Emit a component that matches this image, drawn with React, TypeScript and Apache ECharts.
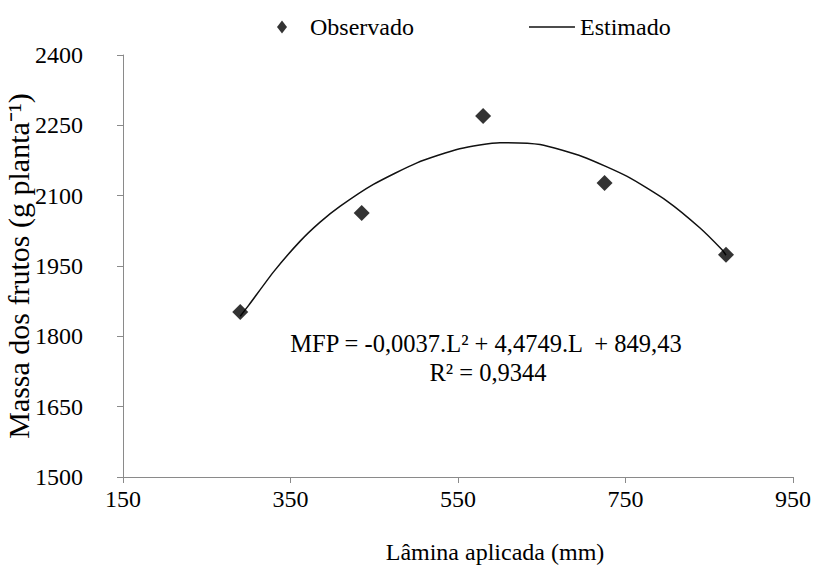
import React, { useEffect, useRef } from "react";
import * as echarts from "echarts";

// Observed values
const lamina = [290, 435, 580, 725, 870];
const massa = [1852, 2063, 2270, 2127, 1974];

// Estimated (fitted) curve
const curveX = [290, 300, 330, 361, 385, 409, 449, 501, 552, 600, 648, 699, 752, 800, 839, 865, 870];
const curveY = [1843, 1866, 1938, 2002, 2043, 2077, 2124, 2170, 2200, 2213, 2209, 2183, 2141, 2088, 2031, 1985, 1973];

const xTicks = { min: 150, max: 950, interval: 200 };
const yTicks = { min: 1500, max: 2400, interval: 150 };

const seriesNames = ["Observado", "Estimado"];
const equationText = "MFP = -0,0037.L² + 4,4749.L  + 849,43";
const r2Text = "R² = 0,9344";
const xTitle = "Lâmina aplicada (mm)";
const yTitle = "Massa dos frutos (g planta⁻¹)";

const FONT = "Liberation Serif";
const AXIS_COLOR = "#8a8a8a";

export default function App() {
  const ref = useRef<HTMLDivElement>(null);

  useEffect(() => {
    if (!ref.current) return;
    const chart = echarts.init(ref.current, undefined, { renderer: "svg" });
    const obs = lamina.map((x, i) => [x, massa[i]]);
    const est = curveX.map((x, i) => [x, curveY[i]]);

    chart.setOption({
      animation: false,
      backgroundColor: "#ffffff",
      textStyle: { fontFamily: FONT, color: "#000" },
      grid: {
        left: 123,
        right: 24,
        top: 55,
        bottom: 90,
        containLabel: false,
        outerBoundsMode: "none",
      },
      legend: {
        left: 272,
        top: 10,
        itemWidth: 46,
        itemHeight: 13,
        itemGap: 115,
        symbolKeepAspect: true,
        textStyle: { fontFamily: FONT, fontSize: 24, color: "#000" },
        data: [
          { name: seriesNames[0], icon: "path://M5,0 L10,6.5 L5,13 L0,6.5 Z" },
          { name: seriesNames[1], icon: "path://M0,0 L46,0 L46,1.5 L0,1.5 Z" },
        ],
      },
      xAxis: {
        type: "value",
        min: xTicks.min,
        max: xTicks.max,
        interval: xTicks.interval,
        name: xTitle,
        nameLocation: "middle",
        nameGap: 63,
        nameMoveOverlap: false,
        nameTextStyle: { fontFamily: FONT, fontSize: 24, color: "#000", padding: [0, 0, 0, 74] },
        axisLine: { show: true, lineStyle: { color: AXIS_COLOR, width: 1 } },
        axisTick: { show: true, length: 6, lineStyle: { color: AXIS_COLOR } },
        axisLabel: { fontFamily: FONT, fontSize: 24, color: "#000", margin: 10 },
        splitLine: { show: false },
      },
      yAxis: {
        type: "value",
        min: yTicks.min,
        max: yTicks.max,
        interval: yTicks.interval,
        name: yTitle,
        nameLocation: "middle",
        nameGap: 90,
        nameRotate: 90,
        nameMoveOverlap: false,
        nameTextStyle: { fontFamily: FONT, fontSize: 30, color: "#000" },
        axisLine: { show: true, lineStyle: { color: AXIS_COLOR, width: 1 } },
        axisTick: { show: true, length: 6, lineStyle: { color: AXIS_COLOR } },
        axisLabel: {
          fontFamily: FONT,
          fontSize: 24,
          color: "#000",
          margin: 40,
          formatter: (v: number) => String(v),
        },
        splitLine: { show: false },
      },
      series: [
        {
          name: seriesNames[0],
          type: "scatter",
          data: obs,
          symbol: "diamond",
          symbolSize: 16,
          itemStyle: { color: "#000" },
          z: 3,
        },
        {
          name: seriesNames[1],
          type: "line",
          data: est,
          smooth: 0.2,
          symbol: "none",
          showSymbol: false,
          lineStyle: { color: "#111", width: 1.5 },
          itemStyle: { color: "#111" },
          z: 2,
        },
      ],
      graphic: [
        {
          type: "text",
          x: 486,
          y: 343,
          style: {
            text: equationText,
            fontFamily: FONT,
            fontSize: 24.5,
            fill: "#000",
            textAlign: "center",
            textVerticalAlign: "middle",
          },
        },
        {
          type: "text",
          x: 488,
          y: 372,
          style: {
            text: r2Text,
            fontFamily: FONT,
            fontSize: 24.5,
            fill: "#000",
            textAlign: "center",
            textVerticalAlign: "middle",
          },
        },
      ],
    });

    return () => chart.dispose();
  }, []);

  return (
    <div
      ref={ref}
      style={{ position: "absolute", left: 0, top: 0, width: 817, height: 567 }}
    />
  );
}
